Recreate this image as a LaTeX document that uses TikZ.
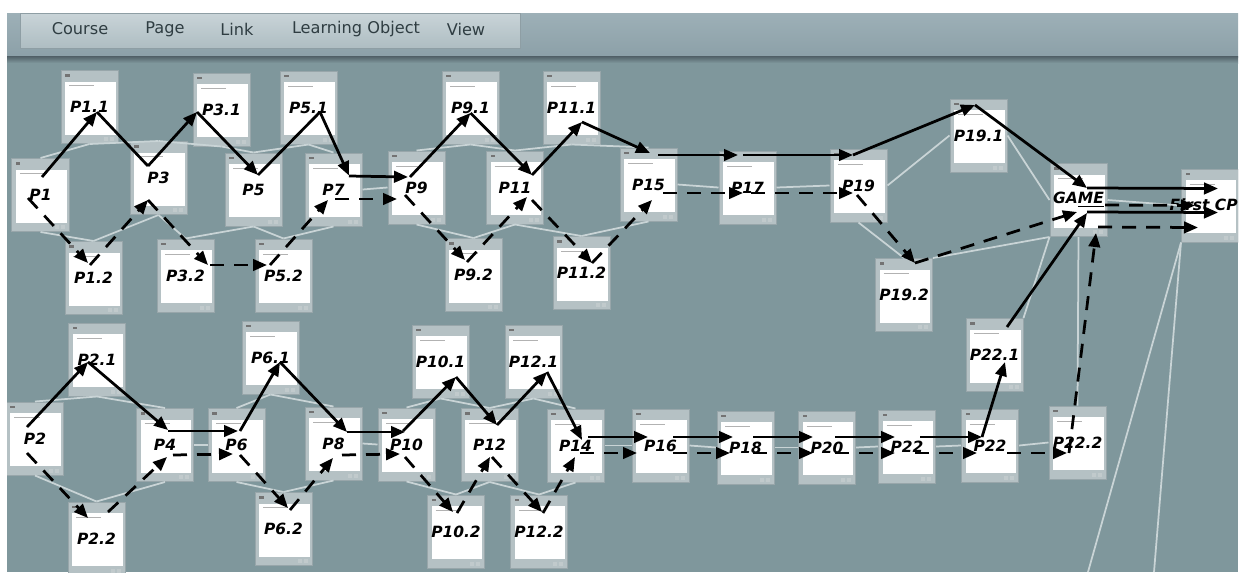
\documentclass[tikz,border=0pt]{standalone}
\usepackage{fontspec}
\usetikzlibrary{arrows.meta,calc}

\newfontfamily\pagefont{DejaVu Sans}
\newfontfamily\menufont{DejaVu Sans}

\definecolor{board}{HTML}{7F979C}
\definecolor{bartop}{HTML}{9DB0B7}
\definecolor{barbottom}{HTML}{8CA0A8}
\definecolor{barline}{HTML}{505F66}
\definecolor{tabtop}{HTML}{C9D4D8}
\definecolor{tabbottom}{HTML}{AEBDC2}
\definecolor{tabedge}{HTML}{8E9EA4}
\definecolor{frame}{HTML}{B5C1C4}
\definecolor{frameedge}{HTML}{98A6AA}
\definecolor{linkgray}{HTML}{C9D4D6}
\definecolor{menutext}{HTML}{2F3D42}

\begin{document}
\begin{tikzpicture}[x=0.2mm, y=-0.2mm,
    >={Triangle[length=2.8mm,width=2.3mm]},
    page/.style={draw=frameedge, fill=frame, line width=0.2mm,
      minimum width=11.4mm, minimum height=14.6mm, inner sep=0pt,
      font=\pagefont\fontsize{8.8}{10}\selectfont\bfseries\itshape,
      path picture={
        \fill[white] ([xshift=0.8mm,yshift=-2.2mm]path picture bounding box.north west)
          rectangle ([xshift=-0.5mm,yshift=1.8mm]path picture bounding box.south east);
        \fill[black!55] ([xshift=0.8mm,yshift=-0.7mm]path picture bounding box.north west)
          rectangle ++(0.9mm,-0.5mm);
        \draw[black!30, line width=0.15mm] ([xshift=1.6mm,yshift=-3mm]path picture bounding box.north west)
          -- ++(5mm,0);
        \fill[frameedge!60] ([xshift=-2.9mm,yshift=0.5mm]path picture bounding box.south east)
          rectangle ++(0.8mm,0.8mm);
        \fill[frameedge!60] ([xshift=-1.7mm,yshift=0.5mm]path picture bounding box.south east)
          rectangle ++(0.8mm,0.8mm);
      }},
    plabel/.style={font=\pagefont\fontsize{8.8}{10}\selectfont\bfseries\itshape, inner sep=0pt},
    menuitem/.style={font=\menufont\fontsize{9.2}{11}\selectfont, text=menutext, inner sep=0pt},
    link/.style={draw=linkgray, line width=0.35mm},
    flow/.style={line width=0.55mm, ->},
    hop/.style={line width=0.55mm},
    alt/.style={flow, dash pattern=on 2.8mm off 2mm}]

  % frame of the screen
  \fill [white] (0, 0) rectangle (1241, 572);
  \useasboundingbox (0, 0) rectangle (1241, 572);
  \fill [board] (7, 58) rectangle (1238, 572);
  \shade [top color=bartop, bottom color=barbottom] (7, 13) rectangle (1238, 57);
  \shade [top color=barline, bottom color=board] (7, 56) rectangle (1238, 63);

  % menu
  \shade [top color=tabtop, bottom color=tabbottom, draw=tabedge] (20, 13) rectangle (520, 48);
  \foreach \x/\t/\n in {80/Course/course, 165/Page/page, 237/Link/link,
                        356/Learning Object/object, 466/View/view}
    \node [menuitem] (menu\n) at (\x, 29) {\t};

  \begin{scope}
    \clip (7, 61) rectangle (1238, 572);

    % upper pages
    \node [page] (p1)   at (40.5, 195)   {P1};
    \node [page] (p1a)  at (89.5, 107)   {P1.1};
    \node [page] (p1b)  at (93.5, 278)   {P1.2};
    \node [page] (p3)   at (158.5, 178)  {P3};
    \node [page] (p3a)  at (221.5, 109.5) {P3.1};
    \node [page] (p3b)  at (185.5, 275.5) {P3.2};
    \node [page] (p5)   at (253.5, 189.5) {P5};
    \node [page] (p5a)  at (308.5, 107.5) {P5.1};
    \node [page] (p5b)  at (283.5, 275.5) {P5.2};
    \node [page] (p7)   at (333.5, 189.5) {P7};
    \node [page] (p9)   at (416.5, 187.5) {P9};
    \node [page] (p9a)  at (470.5, 107.5) {P9.1};
    \node [page] (p9b)  at (473.5, 275)   {P9.2};
    \node [page] (p11)  at (515, 187.5)   {P11};
    \node [page] (p11a) at (571.5, 107.5) {P11.1};
    \node [page] (p11b) at (581.5, 273)   {P11.2};
    \node [page] (p15)  at (648.5, 184.5) {P15};
    \node [page] (p17)  at (747.5, 187.5) {P17};
    \node [page] (p19)  at (858.5, 185.5) {P19};
    \node [page] (p19a) at (978.5, 135.5) {P19.1};
    \node [page] (p19b) at (904, 295)     {P19.2};
    \node [page] (game) at (1078.5, 200)  {GA\underline{ME}};
    \node [page] (cp)   at (1210, 205.5)  {};
    \node [plabel, anchor=east] (cptext) at (1238, 205) {First CP};

    % lower pages
    \node [page] (p2)   at (35, 438.5)    {P2};
    \node [page] (p2a)  at (97, 359.5)    {P2.1};
    \node [page] (p2b)  at (96.5, 538.5)  {P2.2};
    \node [page] (p4)   at (165, 445)     {P4};
    \node [page] (p6)   at (236.5, 445)   {P6};
    \node [page] (p6a)  at (270.5, 357.5) {P6.1};
    \node [page] (p6b)  at (283.5, 529)   {P6.2};
    \node [page] (p8)   at (333.5, 443.5) {P8};
    \node [page] (p10)  at (406.5, 444.5) {P10};
    \node [page] (p10a) at (440.5, 361.5) {P10.1};
    \node [page] (p10b) at (456, 531.5)   {P10.2};
    \node [page] (p12)  at (489.5, 445)   {P12};
    \node [page] (p12a) at (533.5, 361.5) {P12.1};
    \node [page] (p12b) at (539, 531.5)   {P12.2};
    \node [page] (p14)  at (575.5, 445.5) {P14};
    \node [page] (p16)  at (660.5, 445.5) {P16};
    \node [page] (p18)  at (745.5, 447.5) {P18};
    \node [page] (p20)  at (827, 447.5)   {P20};
    \node [page] (p22l) at (907, 446.5)   {P22};
    \node [page] (p22r) at (990, 445.5)   {P22};
    \node [page] (p22a) at (994.5, 355)   {P22.1};
    \node [page] (p22b) at (1077.5, 442.5) {P22.2};

    % links of the editor
    \draw [link] (p1.north) -- (p1a.south);
    \draw [link] (p1.south) -- (p1b.north);
    \draw [link] (p1a.south) -- (p3.north);
    \draw [link] (p1b.north) -- (p3.south);
    \draw [link] (p3.north) -- (p3a.south);
    \draw [link] (p3.south) -- (p3b.north);
    \draw [link] (p3a.south) -- (p5.north);
    \draw [link] (p3b.north) -- (p5.south);
    \draw [link] (p5.north) -- (p5a.south);
    \draw [link] (p5.south) -- (p5b.north);
    \draw [link] (p5a.south) -- (p7.north);
    \draw [link] (p5b.north) -- (p7.south);
    \draw [link] (p7.east) -- (p9.west);
    \draw [link] (p9.north) -- (p9a.south);
    \draw [link] (p9.south) -- (p9b.north);
    \draw [link] (p9a.south) -- (p11.north);
    \draw [link] (p9b.north) -- (p11.south);
    \draw [link] (p11.north) -- (p11a.south);
    \draw [link] (p11.south) -- (p11b.north);
    \draw [link] (p11a.south) -- (p15.north);
    \draw [link] (p11b.north) -- (p15.south);
    \draw [link] (p15.east) -- (p17.west);
    \draw [link] (p17.east) -- (p19.west);
    \draw [link] (p19.east) -- (p19a.west);
    \draw [link] (p19.south) -- (p19b.north);
    \draw [link] (p19a.east) -- (game.west);
    \draw [link] (p19b.north east) -- (game.south west);
    \draw [link] (game.east) -- (cp.west);
    \draw [link] (p22a.north east) -- (game.south west);
    \draw [link] (game.south) -- (p22b.north);
    \coordinate (cpfoot1) at (1088, 572);
    \coordinate (cpfoot2) at (1154, 572);
    \draw [link] (cp.south west) -- (cpfoot1);
    \draw [link] (cp.south west) -- (cpfoot2);

    \draw [link] (p2.north) -- (p2a.south);
    \draw [link] (p2.south) -- (p2b.north);
    \draw [link] (p2a.south) -- (p4.north);
    \draw [link] (p2b.north) -- (p4.south);
    \draw [link] (p4.east) -- (p6.west);
    \draw [link] (p6.north) -- (p6a.south);
    \draw [link] (p6.south) -- (p6b.north);
    \draw [link] (p6a.south) -- (p8.north);
    \draw [link] (p6b.north) -- (p8.south);
    \draw [link] (p8.east) -- (p10.west);
    \draw [link] (p10.north) -- (p10a.south);
    \draw [link] (p10.south) -- (p10b.north);
    \draw [link] (p10a.south) -- (p12.north);
    \draw [link] (p10b.north) -- (p12.south);
    \draw [link] (p12.north) -- (p12a.south);
    \draw [link] (p12.south) -- (p12b.north);
    \draw [link] (p12a.south) -- (p14.north);
    \draw [link] (p12b.north) -- (p14.south);
    \draw [link] (p14.east) -- (p16.west);
    \draw [link] (p16.east) -- (p18.west);
    \draw [link] (p18.east) -- (p20.west);
    \draw [link] (p20.east) -- (p22l.west);
    \draw [link] (p22l.east) -- (p22r.west);
    \draw [link] (p22r.east) -- (p22b.west);

    % upper path, solid
    \draw [flow] ($(p1)+(1.5,-18)$) -- ($(p1a)+(7.5,5)$);
    \draw [hop]  ($(p1a)+(7.5,5)$) -- ($(p3)+(-10.5,-12)$);
    \draw [flow] ($(p3)+(-10.5,-12)$) -- ($(p3a)+(-24.5,2.5)$);
    \draw [flow] ($(p3a)+(-24.5,2.5)$) -- ($(p5)+(4.5,-14.5)$);
    \draw [hop]  ($(p5)+(4.5,-14.5)$) -- ($(p5a)+(11.5,4.5)$);
    \draw [flow] ($(p5a)+(11.5,4.5)$) -- ($(p7)+(15.5,-14)$);
    \draw [flow] ($(p7)+(15.5,-13.5)$) -- ($(p9)+(-8.5,-10.5)$);
    \draw [flow] ($(p9)+(-6.5,-10.5)$) -- ($(p9a)+(0,5.5)$);
    \draw [flow] ($(p9a)+(0,5.5)$) -- ($(p11)+(17,-12.5)$);
    \draw [flow] ($(p11)+(17,-12.5)$) -- ($(p11a)+(10.5,14.5)$);
    \draw [flow] ($(p11a)+(10.5,14.5)$) -- ($(p15)+(1.5,-31.5)$);
    \draw [flow] ($(p15)+(9.5,-29.5)$) -- ($(p17)+(-9.5,-32.5)$);
    \draw [flow] ($(p17)+(-4.5,-32.5)$) -- ($(p19)+(-5.5,-30.5)$);
    \draw [flow] ($(p19)+(-5.5,-30.5)$) -- ($(p19a)+(-3.5,-30.5)$);
    \draw [flow] ($(p19a)+(-3.5,-30.5)$) -- ($(game)+(8.5,-12)$);
    \draw [flow] ($(game)+(8.5,-12)$) -- ($(cp)+(8,-17)$);
    \draw [flow] ($(game)+(8.5,12)$) -- ($(cp)+(8,7)$);

    % upper path, dashed
    \draw [alt] ($(p1)+(-12.5,3)$) -- ($(p1b)+(-5.5,-15)$);
    \draw [alt] ($(p1b)+(-3.5,-13)$) -- ($(p3)+(-10.5,22)$);
    \draw [alt] ($(p3)+(-10.5,22)$) -- ($(p3b)+(22.5,-10.5)$);
    \draw [alt] ($(p3b)+(24.5,-10.5)$) -- ($(p5b)+(-16.5,-10.5)$);
    \draw [alt] ($(p5b)+(-13.5,-10.5)$) -- ($(p7)+(-5.5,10.5)$);
    \draw [alt] ($(p7)+(1.5,9.5)$) -- ($(p9)+(-19.5,11.5)$);
    \draw [alt] ($(p9)+(-11.5,7.5)$) -- ($(p9b)+(-8.5,-15)$);
    \draw [alt] ($(p9b)+(-6.5,-13)$) -- ($(p11)+(12,9.5)$);
    \draw [alt] ($(p11)+(17,12.5)$) -- ($(p11b)+(10.5,-10)$);
    \draw [alt] ($(p11b)+(10.5,-10)$) -- ($(p15)+(3.5,15.5)$);
    \draw [alt] ($(p15)+(14.5,8.5)$) -- ($(p17)+(-4.5,5.5)$);
    \draw [alt] ($(p17)+(3.5,5.5)$) -- ($(p19)+(-5.5,7.5)$);
    \draw [alt] ($(p19)+(-1.5,9.5)$) -- ($(p19b)+(11,-32)$);
    \draw [alt] ($(p19b)+(11,-32)$) -- ($(game)+(-1.5,12)$);
    \draw [alt] ($(game)+(26.5,5)$) -- ($(cp)+(-15,0)$);
    \draw [alt] ($(game)+(19.5,27)$) -- ($(cp)+(-12,22)$);

    % lower path, solid
    \draw [flow] ($(p2)+(-8,-11.5)$) -- ($(p2a)+(-9,2.5)$);
    \draw [flow] ($(p2a)+(-9,2.5)$) -- ($(p4)+(3,-15)$);
    \draw [flow] ($(p4)+(3,-14)$) -- ($(p6)+(1.5,-14)$);
    \draw [flow] ($(p6)+(3.5,-14)$) -- ($(p6a)+(9.5,4.5)$);
    \draw [flow] ($(p6a)+(9.5,4.5)$) -- ($(p8)+(13.5,-11.5)$);
    \draw [flow] ($(p8)+(13.5,-11.5)$) -- ($(p10)+(-1.5,-12.5)$);
    \draw [flow] ($(p10)+(-3.5,-13.5)$) -- ($(p10a)+(15.5,15.5)$);
    \draw [flow] ($(p10a)+(15.5,15.5)$) -- ($(p12)+(7.5,-20)$);
    \draw [flow] ($(p12)+(7.5,-20)$) -- ($(p12a)+(13.5,10.5)$);
    \draw [flow] ($(p12a)+(13.5,10.5)$) -- ($(p14)+(6.5,-5.5)$);
    \draw [flow] ($(p14)+(12.5,-8.5)$) -- ($(p16)+(-12.5,-8.5)$);
    \draw [flow] ($(p16)+(12.5,-8.5)$) -- ($(p18)+(-12.5,-10.5)$);
    \draw [flow] ($(p18)+(7.5,-10.5)$) -- ($(p20)+(-14,-10.5)$);
    \draw [flow] ($(p20)+(8,-10.5)$) -- ($(p22l)+(-12,-9.5)$);
    \draw [flow] ($(p22l)+(13,-9.5)$) -- ($(p22r)+(-8,-8.5)$);
    \draw [flow] ($(p22r)+(-8,-8.5)$) -- ($(p22a)+(10.5,7)$);
    \draw [flow] ($(p22a)+(12.5,-28)$) -- ($(game)+(8.5,13)$);

    % lower path, dashed
    \draw [alt] ($(p2)+(-8,14.5)$) -- ($(p2b)+(-8.5,-20.5)$);
    \draw [alt] ($(p2b)+(11.5,-26.5)$) -- ($(p4)+(2,12)$);
    \draw [alt] ($(p4)+(8,10)$) -- ($(p6)+(-3.5,9)$);
    \draw [alt] ($(p6)+(3.5,10)$) -- ($(p6b)+(4.5,-21)$);
    \draw [alt] ($(p6b)+(6.5,-19)$) -- ($(p8)+(-0.5,14.5)$);
    \draw [alt] ($(p8)+(8.5,11.5)$) -- ($(p10)+(-6.5,9.5)$);
    \draw [alt] ($(p10)+(-1.5,12.5)$) -- ($(p10b)+(-3,-19.5)$);
    \draw [alt] ($(p10b)+(1,-18.5)$) -- ($(p12)+(0.5,12)$);
    \draw [alt] ($(p12)+(2.5,12)$) -- ($(p12b)+(3,-19.5)$);
    \draw [alt] ($(p12b)+(4,-18.5)$) -- ($(p14)+(-0.5,11.5)$);
    \draw [alt] ($(p14)+(4.5,7.5)$) -- ($(p16)+(-23.5,7.5)$);
    \draw [alt] ($(p16)+(12.5,7.5)$) -- ($(p18)+(-15.5,5.5)$);
    \draw [alt] ($(p18)+(7.5,5.5)$) -- ($(p20)+(-14,5.5)$);
    \draw [alt] ($(p20)+(8,5.5)$) -- ($(p22l)+(-12,6.5)$);
    \draw [alt] ($(p22l)+(8,6.5)$) -- ($(p22r)+(-13,7.5)$);
    \draw [alt] ($(p22r)+(17,7.5)$) -- ($(p22b)+(-10.5,10.5)$);
    \draw [alt] ($(p22b)+(-8.5,10.5)$) -- ($(game)+(17.5,33)$);
  \end{scope}

\end{tikzpicture}
\end{document}
